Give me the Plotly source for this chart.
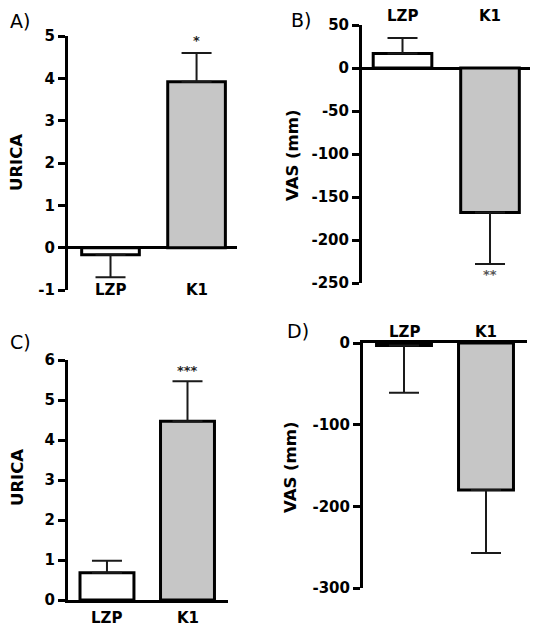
import plotly.graph_objects as go

W, H = 537, 630

categories = ["LZP", "K1"]

# Panel A: URICA
urica_a = [-0.17, 3.92]
urica_a_sem = [0.53, 0.68]
urica_a_ticks = [-1, 0, 1, 2, 3, 4, 5]
# Panel B: VAS (mm)
vas_b = [17, -168]
vas_b_sem = [18, 60]
vas_b_ticks = [-250, -200, -150, -100, -50, 0, 50]
# Panel C: URICA
urica_c = [0.68, 4.47]
urica_c_sem = [0.30, 1.00]
urica_c_ticks = [0, 1, 2, 3, 4, 5, 6]
# Panel D: VAS (mm)
vas_d = [-3, -180]
vas_d_sem = [58, 77]
vas_d_ticks = [-300, -200, -100, 0]

stars = {"A": "*", "B": "**", "C": "***"}

FILL = ["#ffffff", "#c6c6c6"]
FONT = "DejaVu Sans"


def px_x(p):
    return p / W


def px_y(p):
    return 1 - p / H


fig = go.Figure()

panels = [
    ("A", urica_a, urica_a_sem, "x", "y"),
    ("B", vas_b, vas_b_sem, "x2", "y2"),
    ("C", urica_c, urica_c_sem, "x3", "y3"),
    ("D", vas_d, vas_d_sem, "x4", "y4"),
]

for name, vals, sems, xa, ya in panels:
    up = [s if v >= 0 else 0 for v, s in zip(vals, sems)]
    down = [s if v < 0 else 0 for v, s in zip(vals, sems)]
    fig.add_trace(go.Bar(
        x=[0, 1], y=vals, width=0.67,
        marker=dict(color=FILL, line=dict(color="black", width=3)),
        error_y=dict(type="data", symmetric=False, array=up, arrayminus=down,
                     thickness=2, width=15, color="#1a1a1a"),
        xaxis=xa, yaxis=ya, showlegend=False, hoverinfo="skip",
    ))

tickfont = dict(family=FONT, size=15, color="black", weight="bold")


def yax(domain_px, rng, ticks, zeroline):
    return dict(
        domain=[px_y(domain_px[1]), px_y(domain_px[0])], range=rng,
        tickmode="array", tickvals=ticks, ticktext=["<b>%d</b>" % t for t in ticks],
        showgrid=False, showline=True, linewidth=3, linecolor="black",
        ticks="outside", ticklen=7, tickwidth=3, tickcolor="black",
        tickfont=tickfont, zeroline=zeroline, zerolinewidth=3, zerolinecolor="black",
        fixedrange=True, automargin=False,
    )


def xax(domain_px, rng, anchor, showline=False, side="bottom"):
    return dict(
        domain=[px_x(domain_px[0]), px_x(domain_px[1])], range=rng, anchor=anchor,
        showticklabels=False, ticks="", showgrid=False, zeroline=False,
        showline=showline, linewidth=3, linecolor="black", side=side, fixedrange=True,
        automargin=False,
    )


fig.update_layout(
    width=W, height=H, margin=dict(l=0, r=0, t=0, b=0, autoexpand=False),
    paper_bgcolor="white", plot_bgcolor="rgba(0,0,0,0)",
    xaxis=xax((68, 237), [-0.494, 1.47], "y"),
    yaxis=yax((36, 290), [-1, 5], urica_a_ticks, True),
    xaxis2=xax((362, 530), [-0.463, 1.457], "y2"),
    yaxis2=dict(yax((25, 283), [-250, 50], vas_b_ticks, True), anchor="x2"),
    xaxis3=xax((68, 228), [-0.484, 1.503], "y3", showline=True),
    yaxis3=dict(yax((360, 600), [0, 6], urica_c_ticks, False), anchor="x3"),
    xaxis4=xax((363, 527), [-0.5, 1.5], "y4", showline=True, side="top"),
    yaxis4=dict(yax((343, 588), [-300, 0], vas_d_ticks, False), anchor="x4"),
)

ann = []
labfont = dict(family=FONT, size=15, color="black", weight="bold")
for i, c in enumerate(categories):
    ann.append(dict(x=i, y=-1, xref="x", yref="y", text="<b>%s</b>" % c, showarrow=False,
                    font=labfont, yanchor="middle"))
    ann.append(dict(x=i, y=50, xref="x2", yref="y2", text="<b>%s</b>" % c, showarrow=False,
                    font=labfont, yanchor="middle", yshift=9))
    ann.append(dict(x=i, y=0, xref="x3", yref="y3", text="<b>%s</b>" % c, showarrow=False,
                    font=labfont, yanchor="middle", yshift=-18))
    ann.append(dict(x=i, y=0, xref="x4", yref="y4", text="<b>%s</b>" % c, showarrow=False,
                    font=labfont, yanchor="middle", yshift=11))

starfont = dict(family=FONT, size=13, color="#222222", weight="bold")
ann.append(dict(x=1, y=4.9, xref="x", yref="y", text=stars["A"], showarrow=False,
                font=starfont, yanchor="middle"))
ann.append(dict(x=1, y=-240, xref="x2", yref="y2", text=stars["B"], showarrow=False,
                font=dict(starfont, color="#555555"), yanchor="middle"))
ann.append(dict(x=1, y=5.75, xref="x3", yref="y3", text=stars["C"], showarrow=False,
                font=starfont, yanchor="middle"))

titlefont = dict(family=FONT, size=16.5, color="black", weight="bold")
for txt, xp, yp in [("URICA", 17, 163), ("VAS (mm)", 292, 155),
                    ("URICA", 17, 478), ("VAS (mm)", 290, 467)]:
    ann.append(dict(x=px_x(xp), y=px_y(yp), xref="paper", yref="paper",
                    text="<b>%s</b>" % txt,
                    textangle=-90, showarrow=False, font=titlefont,
                    xanchor="center", yanchor="middle"))

pfont = dict(family=FONT, size=19, color="black")
for txt, xp, yp in [("A)", 20, 21), ("B)", 301, 20), ("C)", 20, 342), ("D)", 298, 331)]:
    ann.append(dict(x=px_x(xp), y=px_y(yp), xref="paper", yref="paper", text=txt,
                    showarrow=False, font=pfont, xanchor="center", yanchor="middle"))

fig.update_layout(annotations=ann)

fig.write_html("out.html",
               config={"displayModeBar": False, "staticPlot": True},
               post_script="document.body.style.margin='0px';document.body.style.overflow='hidden';")
